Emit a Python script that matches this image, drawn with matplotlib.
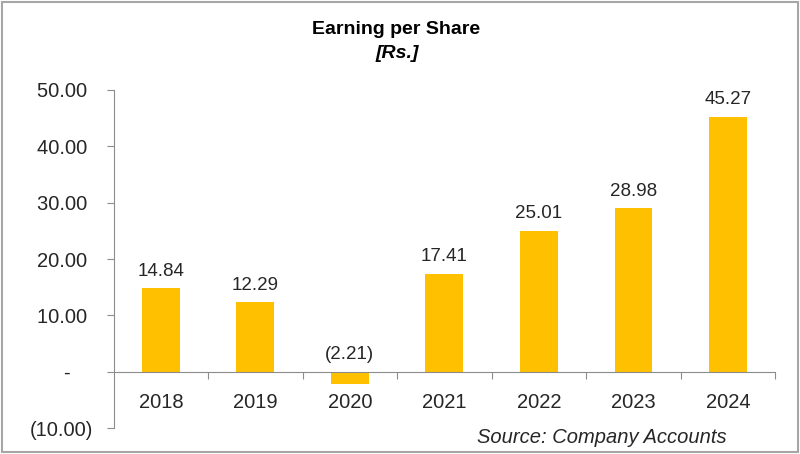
import matplotlib.pyplot as plt
from matplotlib.patches import Rectangle

plt.rcParams['font.family'] = ['Liberation Sans', 'DejaVu Sans']

# Earning per share (Rs.)
years = ['2018', '2019', '2020', '2021', '2022', '2023', '2024']
eps = [14.84, 12.29, -2.21, 17.41, 25.01, 28.98, 45.27]
ytick_vals = [-10, 0, 10, 20, 30, 40, 50]
ytick_labels = ['(10.00)', '-    ', '10.00 ', '20.00 ', '30.00 ', '40.00 ', '50.00 ']

bar_color = '#FFC000'
axis_color = '#8c8c8c'
text_color = '#262626'

fig = plt.figure(figsize=(8, 4.54), dpi=100)
ax = fig.add_axes([0.142, 0.057, 0.827, 0.745])

x = list(range(len(years)))
ax.bar(x, eps, width=0.4, color=bar_color, zorder=2)

ax.set_xlim(-0.5, len(years) - 0.5)
ax.set_ylim(-10, 50)

# spines
for s in ['top', 'right']:
    ax.spines[s].set_visible(False)
ax.spines['bottom'].set_position(('data', 0))
ax.spines['bottom'].set_color(axis_color)
ax.spines['left'].set_color(axis_color)

# y ticks
ax.set_yticks(ytick_vals)
ax.set_yticklabels(ytick_labels)
ax.tick_params(axis='y', length=5, color=axis_color, pad=10, labelsize=14.5, labelcolor=text_color)

# x ticks: marks at category boundaries, labels at centres
ax.set_xticks([i + 0.5 for i in x])
ax.set_xticklabels([])
ax.tick_params(axis='x', which='major', direction='out', length=5, color=axis_color)
ax.set_xticks(x, minor=True)
ax.set_xticklabels(years, minor=True)
ax.tick_params(axis='x', which='minor', length=0, pad=15, labelsize=14.5, labelcolor=text_color)

# data labels
for xi, v in zip(x, eps):
    lab = f'{v:.2f}' if v >= 0 else f'({abs(v):.2f})'
    ax.annotate(lab, (xi, max(v, 0)), xytext=(0, 6), textcoords='offset points',
                ha='center', va='bottom', fontsize=13.5, color=text_color)

fig.text(0.495, 0.934, 'Earning per Share', ha='center', va='center',
         fontsize=14, fontweight='bold', color='black')
fig.text(0.497, 0.883, '[Rs.]', ha='center', va='center',
         fontsize=14, fontweight='bold', fontstyle='italic', color='black')
fig.text(0.752, 0.037, 'Source: Company Accounts', ha='center', va='center',
         fontsize=14.5, fontstyle='italic', color=text_color)

# frame around the chart
fig.patches.append(Rectangle((0.003, 0.005), 0.994, 0.99, transform=fig.transFigure,
                             fill=False, edgecolor='#a6a6a6', linewidth=1.5))

fig.savefig('out.png', dpi=100)
